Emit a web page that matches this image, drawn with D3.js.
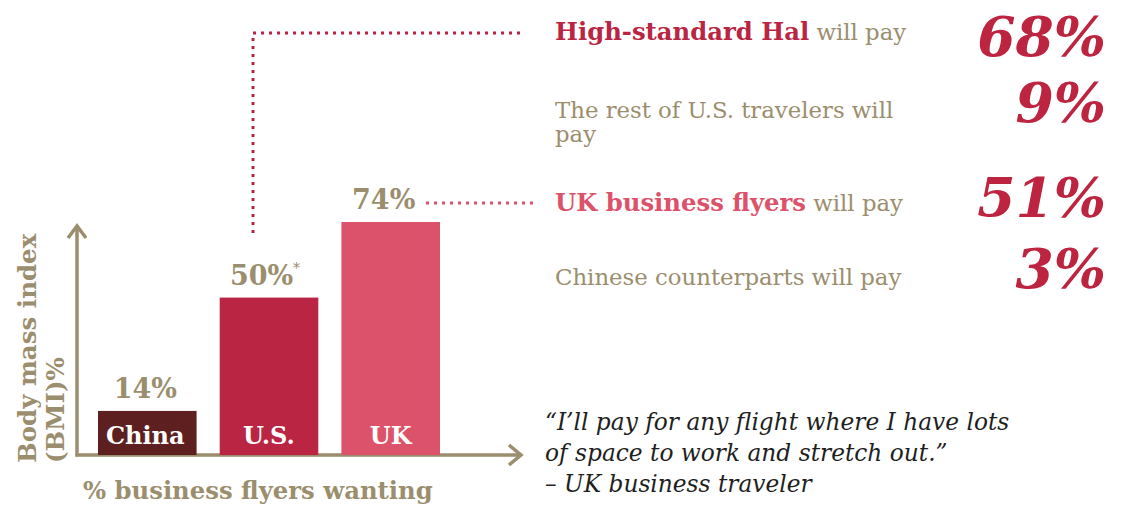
<!DOCTYPE html>
<html><head><meta charset="utf-8">
<script src="https://cdn.jsdelivr.net/npm/d3@7"></script>
<style>
html,body{margin:0;padding:0;background:#fff;}
svg{display:block;}
</style></head>
<body>
<svg id="chart" width="1124" height="506"></svg>
<script>
const categories = ["China", "U.S.", "UK"];
const values = [14, 50, 74];
const valueLabels = ["14%", "50%", "74%"];
const barColors = ["#5e1f20", "#b92542", "#db526a"];

const statBold = ["High-standard Hal", "", "UK business flyers", ""];
const statRest = [" will pay", "The rest of U.S. travelers will|pay", " will pay", "Chinese counterparts will pay"];
const statBoldColors = ["#b92542", null, "#db526a", null];
const statValues = [68, 9, 51, 3];

const quoteLines = ["\u201cI\u2019ll pay for any flight where I have lots", "of space to work and stretch out.\u201d", "\u2013 UK business traveler"];
const yTitle = ["Body mass index", "(BMI)%"];
const xTitle = "% business flyers wanting";

const tan = "#9b8e6e";
const serif = "'DejaVu Serif', Georgia, serif";

const svg = d3.select("#chart");

const baseY = 455, x0 = 77;
const x = d3.scaleBand().domain(categories).range([98, 440]).paddingInner(0.19);
const y = d3.scaleLinear().domain([0, 74]).range([baseY, 222]);

// axes
const ax = svg.append("g").attr("stroke", tan).attr("stroke-width", 3.5).attr("fill", "none").attr("stroke-linecap", "butt");
ax.append("path").attr("d", `M${x0},${baseY + 1.5} V226`);
ax.append("path").attr("d", `M${x0 - 9},${238} L${x0},${226} L${x0 + 9},${238}`);
ax.append("path").attr("d", `M${x0 - 1.5},${baseY} H521`);
ax.append("path").attr("d", `M${509},${baseY - 10} L${521},${baseY} L${509},${baseY + 10}`);

// bars
svg.selectAll("rect.bar").data(categories).join("rect")
  .attr("class", "bar")
  .attr("x", d => x(d))
  .attr("width", x.bandwidth())
  .attr("y", (d, i) => y(values[i]))
  .attr("height", (d, i) => baseY - y(values[i]))
  .attr("fill", (d, i) => barColors[i]);

// in-bar category labels
svg.selectAll("text.cat").data(categories).join("text")
  .attr("class", "cat")
  .attr("x", d => x(d) + x.bandwidth() / 2 - (d === "China" ? 2 : 0))
  .attr("y", 444)
  .attr("text-anchor", "middle")
  .attr("font-family", serif).attr("font-weight", "bold").attr("font-size", 24)
  .attr("fill", "#fff")
  .text(d => d);

// value labels
const vl = svg.selectAll("text.val").data(categories).join("text")
  .attr("class", "val")
  .attr("x", d => x(d) + x.bandwidth() / 2 + (d === "U.S." ? -4 : d === "UK" ? -7 : -2))
  .attr("y", (d, i) => y(values[i]) - 13)
  .attr("text-anchor", "middle")
  .attr("font-family", serif).attr("font-weight", "bold").attr("font-size", 27)
  .attr("fill", tan);
vl.append("tspan").text((d, i) => valueLabels[i]);
vl.filter(d => d === "U.S.").append("tspan").attr("font-size", 14).attr("dy", -12).attr("font-weight", "normal").text("*");

// dotted connectors
svg.append("path")
  .attr("d", `M253,233 V33 H520`)
  .attr("fill", "none").attr("stroke", "#b92542").attr("stroke-width", 3).attr("stroke-dasharray", "3,5");
svg.append("path")
  .attr("d", `M426,${y(74) - 19} H533`)
  .attr("fill", "none").attr("stroke", "#db526a").attr("stroke-width", 3).attr("stroke-dasharray", "3,5");

// y-axis title
yTitle.forEach((t, i) => {
  svg.append("text")
    .attr("transform", `translate(${36 + i * 28},463) rotate(-90)`)
    .attr("font-family", serif).attr("font-weight", "bold").attr("font-size", 24.5)
    .attr("fill", tan).text(t);
});
// x-axis title
svg.append("text").attr("x", 83).attr("y", 499)
  .attr("font-family", serif).attr("font-weight", "bold").attr("font-size", 24.3)
  .attr("fill", tan).text(xTitle);

// right-side stats
const rowY = [40, 118, 211, 285];
const numY = [56, 122, 217, 288];
statValues.forEach((v, i) => {
  const t = svg.append("text").attr("x", 555).attr("y", rowY[i])
    .attr("font-family", serif).attr("font-size", 22.8).attr("fill", tan);
  if (statBold[i]) t.append("tspan").attr("font-weight", "bold").attr("font-size", 24.3).attr("fill", statBoldColors[i]).text(statBold[i]);
  const parts = statRest[i].split("|");
  parts.forEach((p, j) => {
    const ts = t.append("tspan").text(p);
    if (j > 0) ts.attr("x", 555).attr("dy", 24);
  });
  svg.append("text").attr("x", 1106).attr("y", numY[i])
    .attr("text-anchor", "end")
    .attr("font-family", serif).attr("font-weight", "bold").attr("font-style", "italic")
    .attr("font-size", 55).attr("fill", "#bd2440")
    .text(v + "%");
});

// quote
quoteLines.forEach((q, i) => {
  svg.append("text").attr("x", 545).attr("y", 430 + i * 31)
    .attr("font-family", serif).attr("font-style", "italic").attr("font-size", 23.3)
    .attr("fill", "#1f1f1f").text(q);
});
</script>
</body></html>
